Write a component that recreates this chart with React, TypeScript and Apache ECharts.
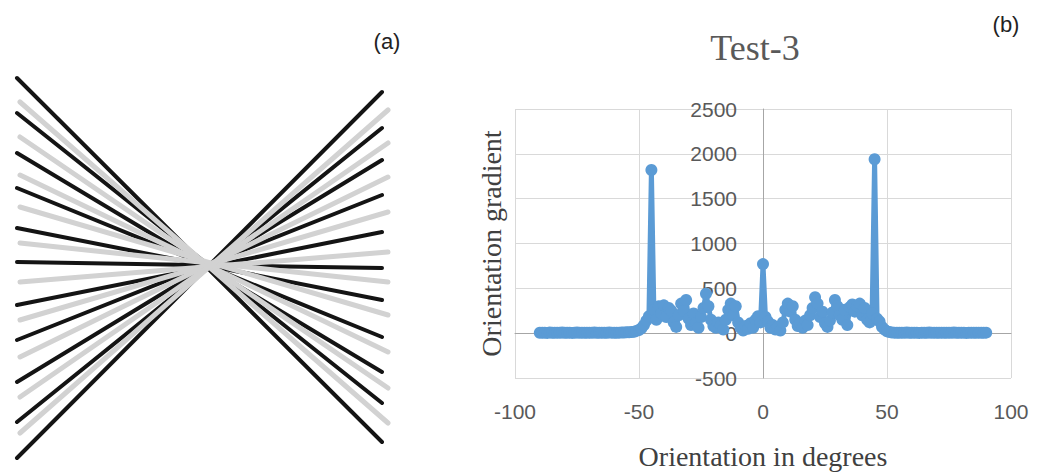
import React, { useEffect, useRef } from "react";
import * as echarts from "echarts";

// ---------- Panel (b): orientation histogram ----------
const DEGREES = [
  -90, -89, -88, -87, -86, -85, -84, -83, -82, -81, -80, -79, -78, -77, -76, -75, -74, -73, -72, -71,
  -70, -69, -68, -67, -66, -65, -64, -63, -62, -61, -60, -59, -58, -57, -56, -55, -54, -53, -52, -51,
  -50, -49, -48, -47, -46, -45, -44, -43, -42, -41, -40, -39, -38, -37, -36, -35, -34, -33, -32, -31,
  -30, -29, -28, -27, -26, -25, -24, -23, -22, -21, -20, -19, -18, -17, -16, -15, -14, -13, -12, -11,
  -10, -9, -8, -7, -6, -5, -4, -3, -2, -1, 0, 1, 2, 3, 4, 5, 6, 7, 8, 9,
  10, 11, 12, 13, 14, 15, 16, 17, 18, 19, 20, 21, 22, 23, 24, 25, 26, 27, 28, 29,
  30, 31, 32, 33, 34, 35, 36, 37, 38, 39, 40, 41, 42, 43, 44, 45, 46, 47, 48, 49,
  50, 51, 52, 53, 54, 55, 56, 57, 58, 59, 60, 61, 62, 63, 64, 65, 66, 67, 68, 69,
  70, 71, 72, 73, 74, 75, 76, 77, 78, 79, 80, 81, 82, 83, 84, 85, 86, 87, 88, 89, 90,
];

// -90 .. -53
const GRADIENT_LEFT_TAIL = [
  4, 6, 5, 3, 7, 5, 4, 6, 5, 8, 4, 5, 6, 3, 5, 7, 4, 6, 5, 4,
  6, 5, 7, 4, 5, 6, 4, 5, 7, 6, 5, 4, 6, 8, 7, 9, 10, 12,
];
// -52 .. 52
const GRADIENT_CENTRE = [
  15, 25, 35, 55, 90, 140, 190, 1820, 260, 150, 300, 220, 310, 180, 280, 250, 120, 70, 200, 330,
  250, 370, 160, 90, 220, 110, 60, 180, 280, 440, 300, 150, 80, 60, 120, 90, 40, 150, 260, 330,
  200, 300, 120, 60, 30, 80, 50, 110, 60, 150, 190, 120, 770, 180, 130, 60, 90, 40, 70, 30,
  120, 260, 330, 240, 300, 150, 80, 110, 60, 140, 90, 200, 280, 400, 330, 180, 240, 110, 70, 140,
  230, 370, 300, 200, 150, 260, 90, 290, 320, 240, 300, 330, 200, 280, 150, 120, 220, 1940, 160, 130,
  70, 40, 20, 12, 8,
];
// 53 .. 90
const GRADIENT_RIGHT_TAIL = [
  6, 5, 4, 6, 5, 7, 4, 5, 6, 5, 3, 6, 5, 4, 7, 5, 6, 4, 5, 6,
  5, 4, 6, 5, 7, 5, 4, 6, 5, 3, 5, 6, 4, 5, 6, 5, 4, 6,
];
const GRADIENT = [...GRADIENT_LEFT_TAIL, ...GRADIENT_CENTRE, ...GRADIENT_RIGHT_TAIL];

const X_MIN = -100;
const X_MAX = 100;
const X_STEP = 50;
const Y_MIN = -500;
const Y_MAX = 2500;
const Y_STEP = 500;

const CHART_TITLE = "Test-3";
const X_TITLE = "Orientation in degrees";
const Y_TITLE = "Orientation gradient";
const PANEL_A = "(a)";
const PANEL_B = "(b)";

// ---------- Panel (a): bow-tie of lines (offsets from the crossing point) ----------
const BLACK_X = [-191, 174];
const BLACK_LEFT_Y = [-185, -150, -110, -75, -35, -1, 42, 77, 119, 159, 195];
const BLACK_RIGHT_Y = [179, 140, 109, 74, 37, 5, -31, -68, -103, -135, -171];
const GRAY_X = [-188, 180];
const GRAY_LEFT_Y = [-161, -126, -88, -56, -20, 19, 57, 94, 134, 170];
const GRAY_RIGHT_Y = [160, 125, 89, 52, 19, -11, -51, -86, -120, -153];

const BLUE = "#5b9bd5";
const SANS = "Liberation Sans";
const SERIF = "Liberation Serif";

// plot-area geometry of panel (b)
const GRID_LEFT = 515;
const GRID_WIDTH = 496;
const Y_AXIS_SHIFT = -(GRID_WIDTH * (0 - X_MIN)) / (X_MAX - X_MIN); // move the y axis to x = 0

export default function App() {
  const ref = useRef<HTMLDivElement>(null);

  useEffect(() => {
    if (!ref.current) return;
    const chart = echarts.init(ref.current, null, { renderer: "svg" });

    const blackLines = BLACK_LEFT_Y.map((ly, i) => ({
      coords: [
        [BLACK_X[0], ly],
        [BLACK_X[1], BLACK_RIGHT_Y[i]],
      ],
    }));
    const grayLines = GRAY_LEFT_Y.map((ly, i) => ({
      coords: [
        [GRAY_X[0], ly],
        [GRAY_X[1], GRAY_RIGHT_Y[i]],
      ],
    }));

    chart.setOption({
      animation: false,
      backgroundColor: "#ffffff",
      grid: [
        { left: GRID_LEFT, top: 109, width: GRID_WIDTH, height: 324, containLabel: false },
        { left: 8, top: 63, width: 400, height: 400, containLabel: false },
      ],
      xAxis: [
        {
          gridIndex: 0,
          type: "value",
          min: X_MIN,
          max: X_MAX,
          interval: X_STEP,
          axisLine: { show: true, onZero: true, lineStyle: { color: "#a6a6a6", width: 1 } },
          axisTick: { show: false },
          splitLine: { show: true, lineStyle: { color: "#d9d9d9", width: 1 } },
          axisLabel: {
            margin: 23,
            fontSize: 21,
            color: "#595959",
            fontFamily: SANS,
            formatter: (v: number) => String(v),
          },
          name: X_TITLE,
          nameLocation: "middle",
          nameGap: 64,
          nameTextStyle: { fontSize: 28, color: "#404040", fontFamily: SERIF },
        },
        { gridIndex: 1, type: "value", min: -200, max: 200, show: false },
      ],
      yAxis: [
        {
          gridIndex: 0,
          type: "value",
          min: Y_MIN,
          max: Y_MAX,
          interval: Y_STEP,
          position: "left",
          offset: Y_AXIS_SHIFT,
          axisLine: { show: true, onZero: false, lineStyle: { color: "#a6a6a6", width: 1 } },
          axisTick: { show: false },
          splitLine: { show: true, lineStyle: { color: "#d9d9d9", width: 1 } },
          axisLabel: {
            margin: 26,
            fontSize: 21,
            color: "#595959",
            fontFamily: SANS,
            formatter: (v: number) => String(v),
          },
          name: Y_TITLE,
          nameLocation: "middle",
          nameGap: 258,
          nameTextStyle: { fontSize: 28, color: "#404040", fontFamily: SERIF },
        },
        { gridIndex: 1, type: "value", min: -200, max: 200, inverse: true, show: false },
      ],
      graphic: [
        {
          type: "text",
          x: 755,
          y: 48,
          style: {
            text: CHART_TITLE,
            fontSize: 36,
            fontFamily: SERIF,
            fill: "#595959",
            align: "center",
            verticalAlign: "middle",
          },
        },
        {
          type: "text",
          x: 387,
          y: 41,
          style: {
            text: PANEL_A,
            fontSize: 22,
            fontFamily: SANS,
            fill: "#222222",
            align: "center",
            verticalAlign: "middle",
          },
        },
        {
          type: "text",
          x: 1006,
          y: 24,
          style: {
            text: PANEL_B,
            fontSize: 22,
            fontFamily: SANS,
            fill: "#222222",
            align: "center",
            verticalAlign: "middle",
          },
        },
      ],
      series: [
        {
          type: "line",
          xAxisIndex: 0,
          yAxisIndex: 0,
          data: DEGREES.map((d, i) => [d, GRADIENT[i]]),
          symbol: "circle",
          symbolSize: 12,
          showSymbol: true,
          showAllSymbol: true,
          lineStyle: { color: BLUE, width: 5 },
          itemStyle: { color: BLUE },
          z: 3,
        },
        {
          type: "lines",
          coordinateSystem: "cartesian2d",
          xAxisIndex: 1,
          yAxisIndex: 1,
          data: blackLines,
          lineStyle: { color: "#141414", width: 4, opacity: 1, cap: "round" },
          z: 2,
        },
        {
          type: "lines",
          coordinateSystem: "cartesian2d",
          xAxisIndex: 1,
          yAxisIndex: 1,
          data: grayLines,
          lineStyle: { color: "#d2d2d2", width: 5, opacity: 1, cap: "round" },
          z: 3,
        },
      ],
    });

    return () => chart.dispose();
  }, []);

  return (
    <div
      ref={ref}
      style={{ position: "fixed", left: 0, top: 0, width: 1037, height: 475, background: "#fff" }}
    />
  );
}
